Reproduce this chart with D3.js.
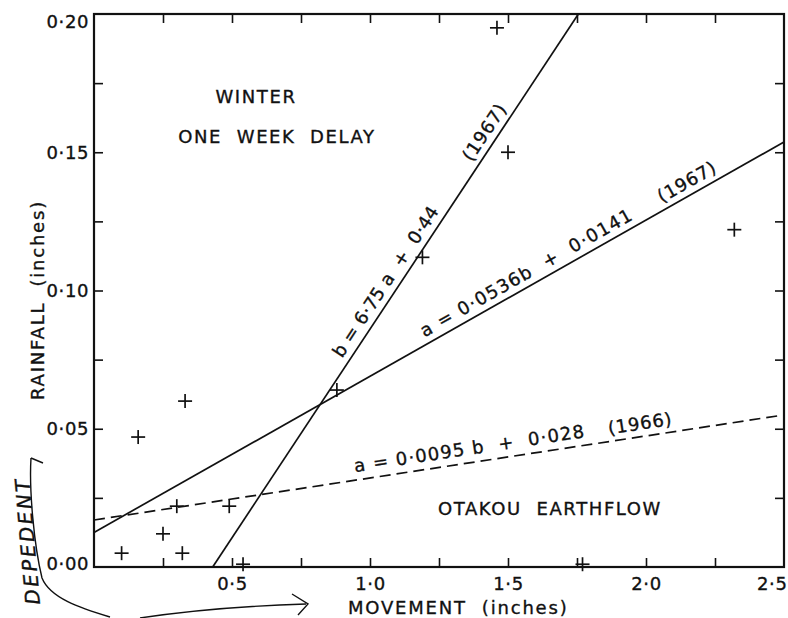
<!DOCTYPE html>
<html><head><meta charset="utf-8">
<script src="https://cdn.jsdelivr.net/npm/d3@7"></script>
<style>
body{margin:0;background:#fff;}
text{font-family:"DejaVu Sans",sans-serif;fill:#111;stroke:#111;stroke-width:0.35;}
</style></head>
<body><svg id="c" width="788" height="618"></svg>
<script>
// ---- data ----
const xTicks = [0.25,0.5,0.75,1.0,1.25,1.5,1.75,2.0,2.25];
const xLabelTicks = [0.5,1.0,1.5,2.0,2.5];
const yTicks = [0.025,0.05,0.075,0.1,0.125,0.15,0.175];
const yLabelTicks = [0.00,0.05,0.10,0.15,0.20];
const movement = [0.10,0.16,0.25,0.30,0.32,0.33,0.49,0.54,0.88,1.19,1.50,1.46,1.77,2.32];
const rainfall = [0.005,0.047,0.012,0.022,0.005,0.060,0.022,0.001,0.064,0.112,0.150,0.195,0.001,0.122];
const line1 = [[0.43,0.0],[1.755,0.2]];      // b = 6.75a + 0.44 (1967)
const line2 = [[0.0,0.0125],[2.5,0.1537]];   // a = 0.0536b + 0.0141 (1967)
const line3 = [[0.0,0.0170],[2.5,0.0550]];   // a = 0.0095b + 0.028 (1966)

const svg = d3.select("#c");
const x = d3.scaleLinear().domain([0,2.5]).range([94,784]);
const y = d3.scaleLinear().domain([0,0.2]).range([567,14]);
const fmt = v => d3.format(".2f")(v).replace(".", "·");
const fmtx = v => d3.format(".1f")(v).replace(".", "·");

// ticks (inward, all four sides)
const tk = 9;
svg.append("g").attr("transform","translate(0,567)")
  .call(d3.axisBottom(x).tickValues(xTicks).tickSize(-tk).tickSizeOuter(0).tickFormat(""))
  .call(g=>g.select(".domain").remove());
svg.append("g").attr("transform","translate(0,14)")
  .call(d3.axisTop(x).tickValues(xTicks).tickSize(-tk).tickSizeOuter(0).tickFormat(""))
  .call(g=>g.select(".domain").remove());
svg.append("g").attr("transform","translate(94,0)")
  .call(d3.axisLeft(y).tickValues(yTicks).tickSize(-tk).tickSizeOuter(0).tickFormat(""))
  .call(g=>g.select(".domain").remove());
svg.append("g").attr("transform","translate(784,0)")
  .call(d3.axisRight(y).tickValues(yTicks).tickSize(-tk).tickSizeOuter(0).tickFormat(""))
  .call(g=>g.select(".domain").remove());
svg.selectAll(".tick line").attr("stroke","#111").attr("stroke-width",1.6);

// labels
const yl = svg.append("g").attr("transform","translate(94,0)")
  .call(d3.axisLeft(y).tickValues(yLabelTicks).tickSize(0).tickPadding(5).tickFormat(fmt))
  .call(g=>g.select(".domain").remove());
yl.selectAll("text").attr("font-size",18).attr("letter-spacing",0.6).attr("fill","#111");
yl.selectAll(".tick").filter(d=>d===0.2).select("text").attr("y",8);
yl.selectAll(".tick").filter(d=>d===0).select("text").attr("y",-3);
const xl = svg.append("g").attr("transform","translate(0,567)")
  .call(d3.axisBottom(x).tickValues(xLabelTicks).tickSize(0).tickPadding(10).tickFormat(fmtx))
  .call(g=>g.select(".domain").remove());
xl.selectAll("text").attr("font-size",18).attr("letter-spacing",0.6).attr("fill","#111");
xl.selectAll(".tick").filter(d=>d===2.5).select("text").attr("text-anchor","end").attr("x",3);
svg.selectAll("g text").attr("font-family","DejaVu Sans");

// frame
svg.append("rect").attr("x",x(0)).attr("y",y(0.2)).attr("width",x(2.5)-x(0)).attr("height",y(0)-y(0.2))
  .attr("fill","none").attr("stroke","#111").attr("stroke-width",2.2);

// lines
const lg = d3.line().x(d=>x(d[0])).y(d=>y(d[1]));
svg.append("path").attr("d",lg(line1)).attr("stroke","#111").attr("stroke-width",1.7).attr("fill","none");
svg.append("path").attr("d",lg(line2)).attr("stroke","#111").attr("stroke-width",1.7).attr("fill","none");
svg.append("path").attr("d",lg(line3)).attr("stroke","#111").attr("stroke-width",1.7).attr("fill","none")
  .attr("stroke-dasharray","11,6");

// points
const pts = movement.map((m,i)=>[m,rainfall[i]]);
const pg = svg.append("g").attr("stroke","#111").attr("stroke-width",1.7);
pts.forEach(p=>{
  const cx=x(p[0]), cy=y(p[1]), s=7;
  pg.append("line").attr("x1",cx-s).attr("x2",cx+s).attr("y1",cy).attr("y2",cy);
  pg.append("line").attr("x1",cx).attr("x2",cx).attr("y1",cy-s).attr("y2",cy+s);
});

// line labels along lines
function label(line, xv, txt, off, ls){
  const p0=[x(line[0][0]),y(line[0][1])], p1=[x(line[1][0]),y(line[1][1])];
  const ang = Math.atan2(p1[1]-p0[1], p1[0]-p0[0])*180/Math.PI;
  const f = (xv-line[0][0])/(line[1][0]-line[0][0]);
  const px = p0[0]+f*(p1[0]-p0[0]), py = p0[1]+f*(p1[1]-p0[1]);
  svg.append("text").attr("transform",`translate(${px},${py}) rotate(${ang}) translate(0,${-off})`)
    .attr("font-size",18).attr("letter-spacing",ls).style("white-space","pre").text(txt);
}
label(line1, 0.92, "b = 6·75 a  +  0·44", 7, 0.2);
label(line1, 1.39, "(1967)", 7, 0.8);
label(line2, 1.21, "a = 0·0536b  +  0·0141", 7, 1.3);
label(line2, 2.07, "(1967)", 7, 0.8);
label(line3, 0.95, "a = 0·0095 b  +  0·028", 8, 1.2);
label(line3, 1.87, "(1966)", 7, 0.8);

// annotations
function ann(tx, cx, by){
  svg.append("text").attr("x",cx).attr("y",by).attr("text-anchor","middle").attr("font-size",18)
    .attr("letter-spacing",1.6).style("white-space","pre").text(tx);
}
ann("WINTER", 256, 103);
ann("ONE  WEEK  DELAY", 277, 143);
ann("OTAKOU  EARTHFLOW", 550, 515);

// axis titles
svg.append("text").attr("x",348).attr("y",614).attr("font-size",18).attr("letter-spacing",1.8)
  .style("white-space","pre").text("MOVEMENT  (inches)");
svg.append("text").attr("transform","translate(44,300) rotate(-90)").attr("text-anchor","middle")
  .attr("font-size",18).attr("letter-spacing",1.8).style("white-space","pre").text("RAINFALL  (inches)");

// handwritten annotation
const hw = svg.append("g").attr("fill","none").attr("stroke","#111").attr("stroke-width",1.4);
hw.append("path").attr("d","M31,458 C29,490 34,545 42,578 C50,598 80,608 110,617");
hw.append("path").attr("d","M31,458 L43,463");
hw.append("path").attr("d","M140,618 C180,612 240,606 306,604");
hw.append("path").attr("d","M292,594 L308,604 L298,615");
svg.append("text").attr("transform","translate(40,604) rotate(-95)").attr("font-size",20)
  .attr("font-style","italic").attr("letter-spacing",2.5).text("DEPEDENT");
</script></body></html>
